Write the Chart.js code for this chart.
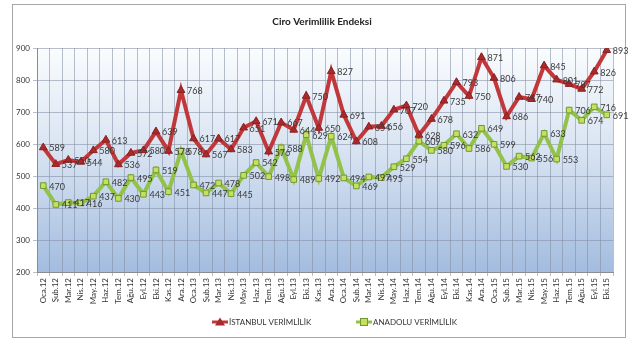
<!DOCTYPE html>
<html lang="tr">
<head>
<meta charset="utf-8">
<title>Ciro Verimlilik Endeksi</title>
<script src="https://cdn.jsdelivr.net/npm/chart.js@4.4.1/dist/chart.umd.min.js"></script>
<style>
  html, body { margin: 0; padding: 0; background: #fff; }
</style>
</head>
<body>
<canvas id="ciroChart" width="640" height="351"></canvas>
<script>
// ===== Data =====
const months = [
  "Oca.12", "Şub.12", "Mar.12", "Nis.12", "May.12", "Haz.12", "Tem.12", "Ağu.12", "Eyl.12", "Eki.12", "Kas.12", "Ara.12",
  "Oca.13", "Şub.13", "Mar.13", "Nis.13", "May.13", "Haz.13", "Tem.13", "Ağu.13", "Eyl.13", "Eki.13", "Kas.13", "Ara.13",
  "Oca.14", "Şub.14", "Mar.14", "Nis.14", "May.14", "Haz.14", "Tem.14", "Ağu.14", "Eyl.14", "Eki.14", "Kas.14", "Ara.14",
  "Oca.15", "Şub.15", "Mar.15", "Nis.15", "May.15", "Haz.15", "Tem.15", "Ağu.15", "Eyl.15", "Eki.15"
];

const istanbulValues = [
  589, 537, 550, 544, 580, 613, 536, 572, 580, 639, 578, 768,
  617, 567, 617, 583, 651, 671, 576, 667, 644, 750, 650, 827,
  691, 608, 654, 656, 707, 720, 628, 678, 735, 793, 750, 871,
  806, 686, 747, 740, 845, 801, 787, 772, 826, 893
];

const anadoluValues = [
  470, 411, 417, 416, 437, 482, 430, 495, 443, 519, 451, 578,
  472, 447, 478, 445, 502, 542, 498, 588, 489, 629, 492, 624,
  494, 469, 497, 495, 529, 554, 609, 580, 596, 632, 586, 649,
  599, 530, 562, 556, 633, 553, 706, 674, 716, 691
];

const chartTitle = "Ciro Verimlilik Endeksi";
const seriesNames = ["İSTANBUL VERİMLİLİK", "ANADOLU VERİMLİLİK"];
const yTickValues = [200, 300, 400, 500, 600, 700, 800, 900];

const FONT = "Lato";
const RED = "#c0383a";
const GREEN = "#92c24a";

// ===== Marker helpers (used by the legend) =====
function drawTriangle(g, x, y) {
  g.fillStyle = "#a82a2c";
  g.beginPath();
  g.moveTo(x, y - 4.5);
  g.lineTo(x + 5, y + 3.5);
  g.lineTo(x - 5, y + 3.5);
  g.closePath();
  g.fill();
}

function drawSquare(g, x, y) {
  g.fillStyle = "#c6df62";
  g.strokeStyle = "#6e9a2c";
  g.lineWidth = 1;
  g.fillRect(x - 3.5, y - 3.5, 7, 7);
  g.strokeRect(x - 3.5, y - 3.5, 7, 7);
}

// ===== Plugins =====
const plotBackground = {
  id: "plotBackground",
  beforeDraw(chart) {
    const { ctx, chartArea: a } = chart;
    ctx.save();
    // outer frame
    ctx.strokeStyle = "#a6a6a6";
    ctx.lineWidth = 1;
    ctx.strokeRect(12.5, 4.5, 613, 333);
    // blue gradient plot area
    const grad = ctx.createLinearGradient(0, a.top, 0, a.bottom);
    grad.addColorStop(0, "#fafcfe");
    grad.addColorStop(0.45, "#d9e4f2");
    grad.addColorStop(1, "#a3bcdf");
    ctx.fillStyle = grad;
    ctx.fillRect(a.left, a.top, a.right - a.left, a.bottom - a.top);
    // title
    ctx.fillStyle = "#222";
    ctx.font = `bold 10px ${FONT}`;
    ctx.textAlign = "center";
    ctx.textBaseline = "middle";
    ctx.fillText(chartTitle, 322, 22);
    ctx.restore();
  }
};

const valueLabels = {
  id: "valueLabels",
  afterDatasetsDraw(chart) {
    const ctx = chart.ctx;
    ctx.save();
    ctx.font = `9px ${FONT}`;
    ctx.fillStyle = "#3a3a3a";
    ctx.textAlign = "left";
    ctx.textBaseline = "middle";
    chart.data.datasets.forEach((ds, i) => {
      chart.getDatasetMeta(i).data.forEach((pt, j) => {
        ctx.fillText(ds.data[j], pt.x + 6, pt.y + 1);
      });
    });
    ctx.restore();
  }
};

// Excel-style legend: short line with the marker in the middle
const bottomLegend = {
  id: "bottomLegend",
  afterDraw(chart) {
    const ctx = chart.ctx;
    const items = [
      { x: 212, color: RED, marker: drawTriangle, text: seriesNames[0] },
      { x: 356, color: GREEN, marker: drawSquare, text: seriesNames[1] }
    ];
    const y = 322;
    ctx.save();
    ctx.font = `8px ${FONT}`;
    ctx.textBaseline = "middle";
    items.forEach(it => {
      ctx.strokeStyle = it.color;
      ctx.lineWidth = 3;
      ctx.beginPath();
      ctx.moveTo(it.x, y);
      ctx.lineTo(it.x + 16, y);
      ctx.stroke();
      it.marker(ctx, it.x + 8, y);
      ctx.fillStyle = "#333";
      ctx.fillText(it.text, it.x + 17, y);
    });
    ctx.restore();
  }
};

// ===== Chart =====
new Chart(document.getElementById("ciroChart"), {
  type: "line",
  data: {
    labels: months,
    datasets: [
      {
        label: seriesNames[0],
        data: istanbulValues,
        borderColor: RED,
        borderWidth: 4,
        pointStyle: "triangle",
        pointRadius: 4.5,
        pointBackgroundColor: "#a82a2c",
        pointBorderColor: "#8e2022",
        pointBorderWidth: 1,
        tension: 0
      },
      {
        label: seriesNames[1],
        data: anadoluValues,
        borderColor: GREEN,
        borderWidth: 4,
        pointStyle: "rect",
        pointRadius: 4,
        pointBackgroundColor: "#c6df62",
        pointBorderColor: "#6e9a2c",
        pointBorderWidth: 1,
        tension: 0
      }
    ]
  },
  options: {
    responsive: false,
    animation: false,
    layout: { padding: { left: 12, right: 27, top: 48, bottom: 39 } },
    plugins: {
      title: { display: false },
      legend: { display: false },
      tooltip: { enabled: false }
    },
    scales: {
      x: {
        offset: true,
        afterFit: (s) => { s.height = 40; },
        grid: { offset: true, color: "rgba(130,140,160,0.55)", tickLength: 4 },
        border: { color: "#8c8c8c" },
        ticks: {
          autoSkip: false,
          minRotation: 90,
          maxRotation: 90,
          color: "#333",
          font: { family: FONT, size: 8 },
          padding: 2
        }
      },
      y: {
        min: yTickValues[0],
        max: yTickValues[yTickValues.length - 1],
        afterBuildTicks: (s) => { s.ticks = yTickValues.map(v => ({ value: v })); },
        afterFit: (s) => { s.width = 25; },
        grid: { color: "rgba(130,140,160,0.55)", tickLength: 4 },
        border: { color: "#8c8c8c" },
        ticks: {
          color: "#333",
          font: { family: FONT, size: 8 },
          padding: 3
        }
      }
    }
  },
  plugins: [plotBackground, valueLabels, bottomLegend]
});
</script>
</body>
</html>
